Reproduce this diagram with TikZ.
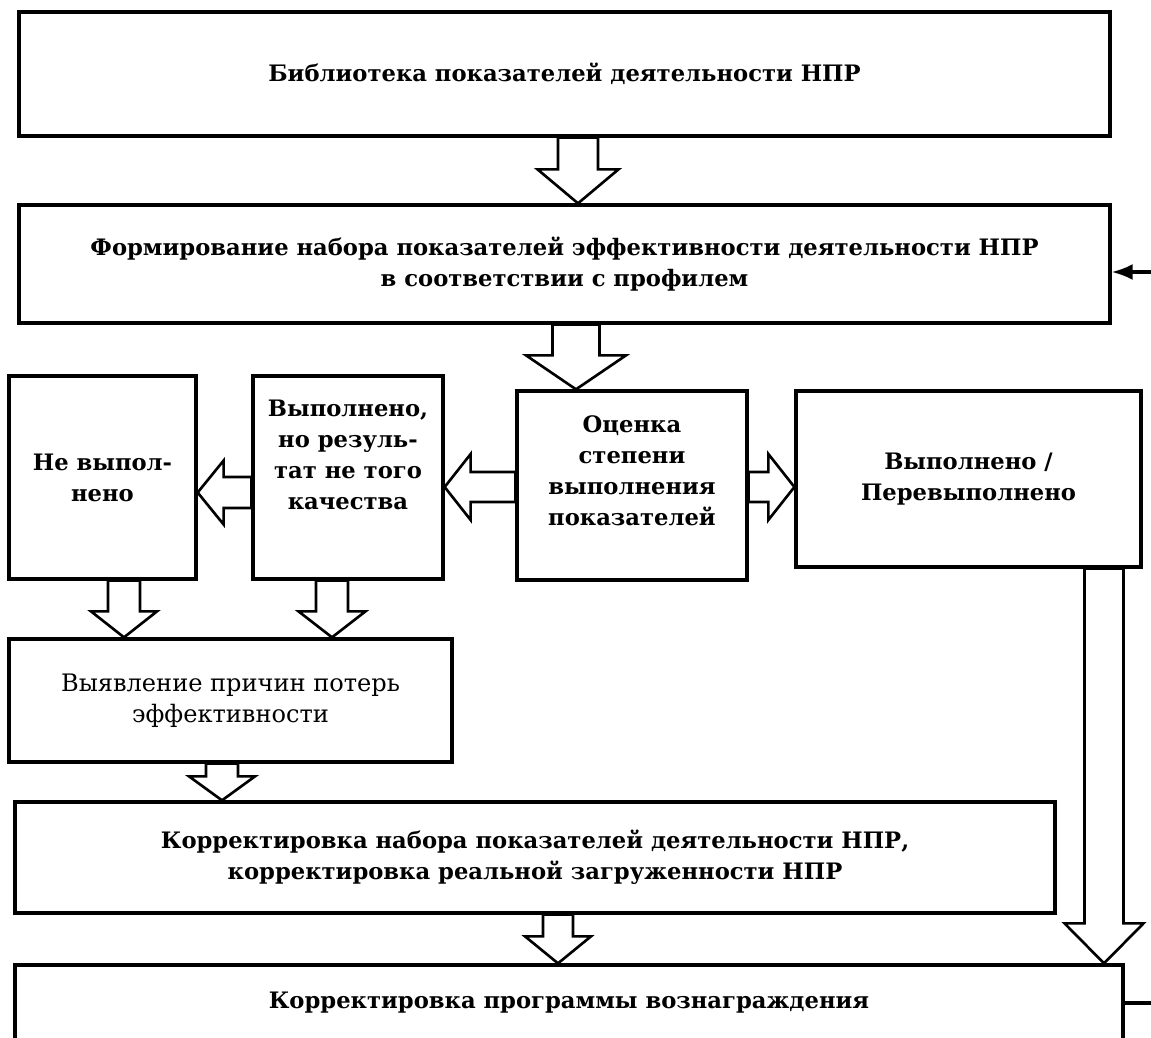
\documentclass[tikz,border=0pt]{standalone}
\usepackage{fontspec}
\setmainfont{DejaVu Serif}
\usetikzlibrary{calc,arrows.meta}

\tikzset{
  box/.style={draw, line width=1.9pt, inner sep=0pt, align=center,
    font=\fontsize{12.9}{17.6}\selectfont\bfseries},
  txt/.style={inner sep=0pt, align=center, font=\fontsize{12.9}{17.6}\selectfont\bfseries},
  fat/.style={draw, fill=white, line width=1.5pt, line join=miter}
}

% block arrows, sizes in px: x/y, from, to, half shaft, half head, head length
\newcommand{\fatdown}[6]{%
  \draw[fat] let \p1=(#2.south), \p2=(#3.north), \p3=(#1,0), \p4=(#4,-#6), \p5=(#5,0) in
    (\x3-\x4,\y1) -- (\x3-\x4,\y2+\y4) -- (\x3-\x5,\y2+\y4) -- (\x3,\y2)
    -- (\x3+\x5,\y2+\y4) -- (\x3+\x4,\y2+\y4) -- (\x3+\x4,\y1) -- cycle;}
\newcommand{\fatleft}[6]{%
  \draw[fat] let \p1=(#2.west), \p2=(#3.east), \p3=(0,#1), \p4=(#6,-#4), \p5=(0,-#5) in
    (\x1,\y3+\y4) -- (\x2+\x4,\y3+\y4) -- (\x2+\x4,\y3+\y5) -- (\x2,\y3)
    -- (\x2+\x4,\y3-\y5) -- (\x2+\x4,\y3-\y4) -- (\x1,\y3-\y4) -- cycle;}
\newcommand{\fatright}[6]{%
  \draw[fat] let \p1=(#2.east), \p2=(#3.west), \p3=(0,#1), \p4=(#6,-#4), \p5=(0,-#5) in
    (\x1,\y3+\y4) -- (\x2-\x4,\y3+\y4) -- (\x2-\x4,\y3+\y5) -- (\x2,\y3)
    -- (\x2-\x4,\y3-\y5) -- (\x2-\x4,\y3-\y4) -- (\x1,\y3-\y4) -- cycle;}

\begin{document}
\begin{tikzpicture}[x=0.02cm, y=-0.02cm]
  \useasboundingbox (0,0) rectangle (1151,1037);
  \clip (0,0) rectangle (1151,1037);

  \node[box, minimum width=21.82cm, minimum height=2.48cm] (library) at (564.5,74)
    {Библиотека показателей деятельности НПР};
  \node[box, minimum width=21.82cm, minimum height=2.36cm] (forming) at (564.5,264)
    {Формирование набора показателей эффективности деятельности НПР\\в соответствии с профилем};

  \node[box, minimum width=4.6cm, minimum height=3.78cm] (assess) at (632,485.5) {};
  \node[txt] (assesstxt) at (632,471) {Оценка\\степени\\выполнения\\показателей};
  \node[box, minimum width=3.8cm, minimum height=4.06cm] (poor) at (348,477.5) {};
  \node[txt] (poortxt) at (348,455) {Выполнено,\\но резуль-\\тат не того\\качества};
  \node[box, minimum width=3.74cm, minimum height=4.06cm] (failed) at (102.5,477.5) {Не выпол-\\нено};
  \node[box, minimum width=6.9cm, minimum height=3.52cm] (done) at (968.5,479) {Выполнено /\\Перевыполнено};

  \node[box, minimum width=8.86cm, minimum height=2.46cm, font=\fontsize{13.7}{17.6}\selectfont]
    (causes) at (230.5,700.5) {Выявление причин потерь\\эффективности};
  \node[box, minimum width=20.8cm, minimum height=2.22cm] (fix) at (535,857.5)
    {Корректировка набора показателей деятельности НПР,\\корректировка реальной загруженности НПР};
  \node[box, minimum width=22.16cm, minimum height=1.52cm] (reward) at (569,1003)
    {Корректировка программы вознаграждения};

  \fatdown{578}{library}{forming}{20}{40.5}{34}
  \fatdown{576}{forming}{assess}{23.5}{50}{34}
  \fatleft{487}{assess}{poor}{15}{33}{26}
  \fatleft{492.5}{poor}{failed}{15.5}{32}{26}
  \fatright{487}{assess}{done}{15}{33}{26}
  \fatdown{124}{failed}{causes}{16}{33}{26}
  \fatdown{332}{poor}{causes}{16}{33.5}{26}
  \fatdown{222}{causes}{fix}{16}{33}{24}
  \fatdown{558}{fix}{reward}{15}{33}{27}
  \fatdown{1104}{done}{reward}{19.5}{39.5}{40}

  % feedback to the forming step (runs off the page)
  \coordinate (backin) at (1151,272);
  \coordinate (backout) at (1151,1003);
  \draw[line width=1.9pt] (reward.east |- backout) -- (backout);
  \draw[line width=1.9pt, -{Latex[length=0.42cm, width=0.32cm]}] (backin) -- (backin -| forming.east);
\end{tikzpicture}
\end{document}
